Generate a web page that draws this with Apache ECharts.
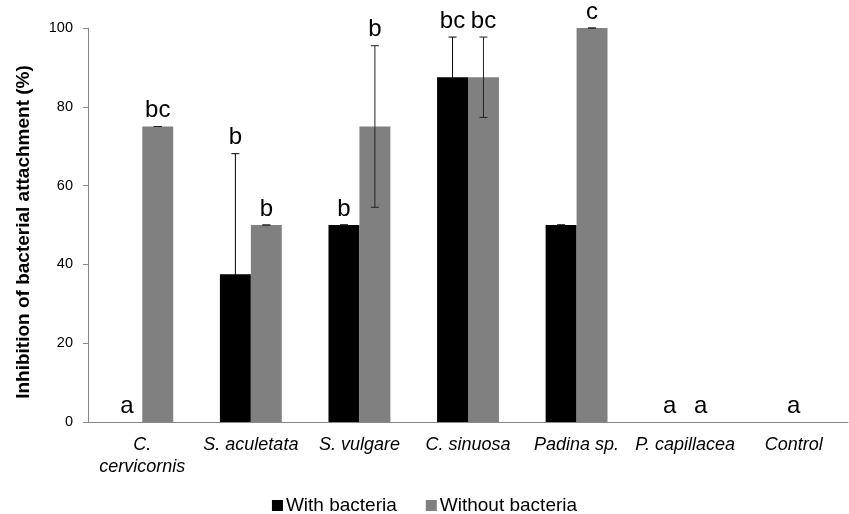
<!DOCTYPE html>
<html><head><meta charset="utf-8">
<script src="https://cdn.jsdelivr.net/npm/echarts@6/dist/echarts.min.js"></script>
<style>html,body{margin:0;padding:0;background:#fff}#c{width:849px;height:514px}</style>
</head><body><div id="c"></div>
<script>
var categories = ['C.\ncervicornis', 'S. aculetata', 'S. vulgare', 'C. sinuosa', 'Padina sp.', 'P. capillacea', 'Control'];
var withBacteria = [0, 37.5, 50, 87.5, 50, 0, 0];
var withoutBacteria = [75, 50, 75, 87.5, 100, 0, 0];
var withErr = [null, 30.6, 0, 10.2, 0, null, null];
var withoutErr = [0, 0, 20.5, 10.2, 0, null, null];
var withLetters = ['a', 'b', 'b', 'bc', '', 'a', ''];
var withoutLetters = ['bc', 'b', 'b', 'bc', 'c', 'a', ''];
var groupLetters = ['', '', '', '', '', '', 'a'];
var yTicks = [0, 20, 40, 60, 80, 100];

var FONT = '"Liberation Sans", Arial, sans-serif';
var BARW = 0.285;

function errRenderer(vals, errs, letters, side, stroke) {
  return function (params, api) {
    var i = api.value(0);
    var band = api.size([1, 0])[0];
    var off = side * band * BARW / 2;
    var v = vals[i], e = errs[i];
    var c = api.coord([i, v]);
    var x = c[0] + off;
    var children = [];
    var topY = c[1];
    if (e !== null && e !== undefined) {
      var hi = api.coord([i, v + e])[1];
      var lo = api.coord([i, v - e])[1];
      topY = hi;
      var st = {stroke: stroke, lineWidth: 1};
      children.push({type: 'line', shape: {x1: x, y1: hi, x2: x, y2: lo}, style: st});
      children.push({type: 'line', shape: {x1: x - 4, y1: hi, x2: x + 4, y2: hi}, style: st});
      children.push({type: 'line', shape: {x1: x - 4, y1: lo, x2: x + 4, y2: lo}, style: st});
    }
    if (letters[i]) {
      children.push({type: 'text', style: {text: letters[i], x: x, y: topY - 4, align: 'center', verticalAlign: 'bottom', font: '24px ' + FONT, fill: '#000'}});
    }
    return {type: 'group', children: children};
  };
}

var idx = categories.map(function (_, i) { return [i]; });
var chart = echarts.init(document.getElementById('c'));
chart.setOption({
  animation: false,
  grid: {left: 88, right: 1, top: 28, bottom: 92, containLabel: false},
  legend: {
    data: ['With bacteria', 'Without bacteria'],
    top: 496, left: 'center', padding: 0, icon: 'rect', itemWidth: 11, itemHeight: 11, itemGap: 29,
    textStyle: {fontSize: 19, fontFamily: FONT, color: '#000', padding: [0, 0, 0, -2]}
  },
  xAxis: {
    type: 'category', data: categories,
    axisLine: {lineStyle: {color: '#888'}},
    axisTick: {length: 5, lineStyle: {color: '#888'}},
    axisLabel: {fontSize: 18, fontStyle: 'italic', fontFamily: FONT, color: '#000', margin: 12, lineHeight: 22, interval: 0}
  },
  yAxis: {
    type: 'value', min: 0, max: 100, interval: 20,
    name: 'Inhibition of bacterial attachment (%)', nameLocation: 'middle', nameGap: 55,
    nameTextStyle: {fontSize: 19, fontWeight: 'bold', fontFamily: FONT, color: '#000', padding: [0, 14, 0, 0]},
    axisLine: {show: true, lineStyle: {color: '#888'}},
    axisTick: {show: true, length: 5, lineStyle: {color: '#888'}},
    splitLine: {show: false},
    axisLabel: {fontSize: 14.5, fontFamily: FONT, color: '#000', margin: 15,
      formatter: function (v) { return yTicks.indexOf(v) >= 0 ? String(v) : ''; }}
  },
  series: [
    {name: 'With bacteria', type: 'bar', data: withBacteria, barWidth: (BARW * 100) + '%', barGap: '0%', itemStyle: {color: '#000'}},
    {name: 'Without bacteria', type: 'bar', data: withoutBacteria, barWidth: (BARW * 100) + '%', barGap: '0%', itemStyle: {color: '#808080'}},
    {type: 'custom', data: idx, renderItem: errRenderer(withBacteria, withErr, withLetters, -1, '#000'), z: 5, silent: true},
    {type: 'custom', data: idx, renderItem: errRenderer(withoutBacteria, withoutErr, withoutLetters, 1, '#222'), z: 5, silent: true},
    {type: 'custom', data: idx, renderItem: errRenderer(withBacteria.map(function(){return 0;}), withBacteria.map(function(){return null;}), groupLetters, 0, '#000'), z: 5, silent: true}
  ]
});
</script>
</body></html>
